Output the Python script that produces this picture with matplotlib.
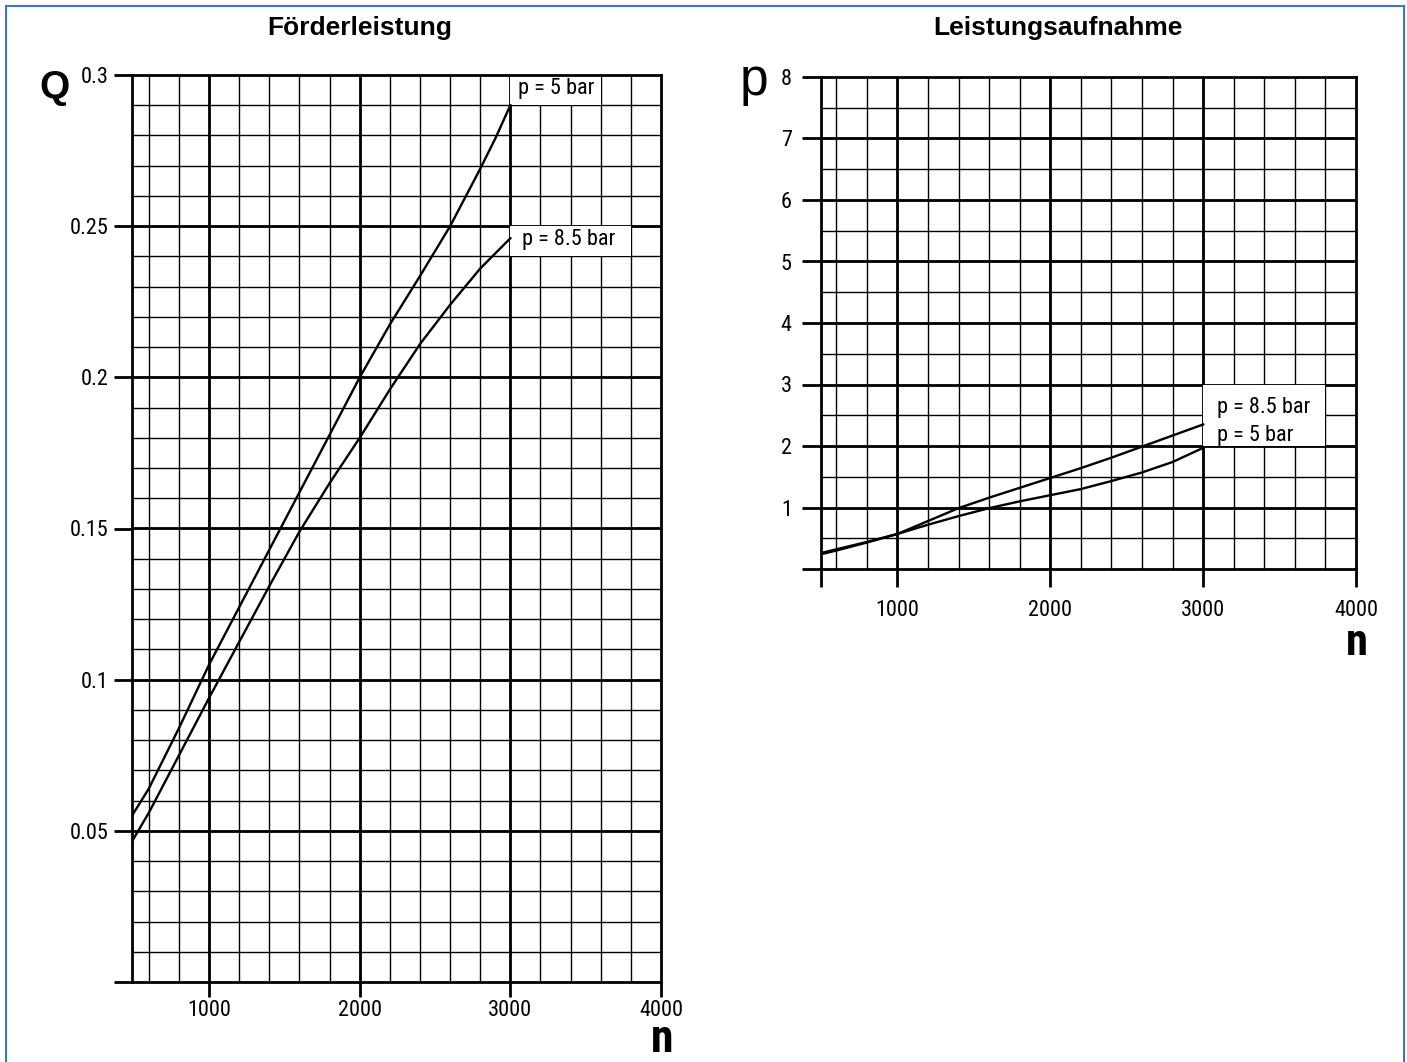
import numpy as np
import matplotlib
matplotlib.use("Agg")
import matplotlib.pyplot as plt
from matplotlib import font_manager as fm
from matplotlib.patches import Rectangle

# ---------------- data ----------------
# Förderleistung  (Q over n)
n_q = [488, 600, 800, 1000, 1200, 1400, 1600, 1800, 2000, 2200, 2400, 2600, 2800, 2900, 3000]
q_5bar = [0.055, 0.064, 0.084, 0.105, 0.124, 0.143, 0.162, 0.181, 0.200, 0.2175, 0.2335,
          0.250, 0.269, 0.279, 0.290]
q_85bar = [0.0465, 0.056, 0.075, 0.094, 0.1125, 0.131, 0.149, 0.165, 0.180, 0.196, 0.211,
           0.224, 0.236, 0.241, 0.246]

# Leistungsaufnahme (P over n)
n_p = [500, 600, 800, 1000, 1200, 1400, 1600, 1800, 2000, 2200, 2400, 2600, 2800, 3000]
p_85bar = [0.24, 0.30, 0.43, 0.57, 0.78, 0.99, 1.16, 1.32, 1.48, 1.64, 1.81, 1.99, 2.17, 2.35]
p_5bar = [0.26, 0.32, 0.44, 0.57, 0.72, 0.86, 0.99, 1.10, 1.20, 1.30, 1.43, 1.57, 1.74, 1.97]

q_ticks = [0, 0.05, 0.1, 0.15, 0.2, 0.25, 0.3]
q_ticklabels = ["", "0.05", "0.1", "0.15", "0.2", "0.25", "0.3"]
n_ticks = [1000, 2000, 3000, 4000]
n_ticklabels = ["1000", "2000", "3000", "4000"]
p_ticks = [0, 1, 2, 3, 4, 5, 6, 7, 8]
p_ticklabels = ["", "1", "2", "3", "4", "5", "6", "7", "8"]

label_5 = "p = 5 bar"
label_85 = "p = 8.5 bar"

# ---------------- fonts ----------------
entries = fm.fontManager.ttflist
names = {f.name for f in entries}
narrow_family, narrow_stretch = None, "normal"
for cand in ["Liberation Sans Narrow", "Roboto Condensed", "Open Sans Condensed",
             "Noto Sans Condensed", "DejaVu Sans Condensed"]:
    if cand in names:
        narrow_family = cand
        break
if narrow_family is None:
    cond = [f for f in entries if f.stretch in ("condensed", "semi-condensed", 87, 75)
            or (isinstance(f.stretch, str) and "condensed" in f.stretch)]
    if cond:
        narrow_family = cond[0].name
        narrow_stretch = "condensed"
    else:
        narrow_family = "Liberation Sans" if "Liberation Sans" in names else "DejaVu Sans"
sans = "Liberation Sans" if "Liberation Sans" in names else "DejaVu Sans"
TICK = dict(fontfamily=narrow_family, fontstretch=narrow_stretch, fontsize=16)
LAB = dict(fontfamily=narrow_family, fontstretch=narrow_stretch, fontsize=16)

W, H = 1407, 1062
fig = plt.figure(figsize=(W / 100, H / 100), dpi=100)
fig.patch.set_facecolor("white")

def fx(px):
    return px / W

def fy(py):
    return 1 - py / H

MAJ = 2.0
MIN = 1.0


def setup(ax, xlim, ylim, xminor, ymajor, yminor, xmajor):
    ax.set_xlim(*xlim)
    ax.set_ylim(*ylim)
    for v in xminor:
        ax.axvline(v, color="black", lw=MIN, zorder=1)
    for v in yminor:
        ax.axhline(v, color="black", lw=MIN, zorder=1)
    for v in xmajor:
        ax.axvline(v, color="black", lw=MAJ, zorder=1.1)
    for v in ymajor:
        ax.axhline(v, color="black", lw=MAJ, zorder=1.1)
    for s in ax.spines.values():
        s.set_linewidth(MAJ)
        s.set_zorder(5)


# ---------- left: Förderleistung ----------
axL = fig.add_axes([fx(132), fy(982), fx(661) - fx(132), fy(75) - fy(982)])
setup(axL, (488, 4000), (0, 0.3),
      np.arange(600, 4000, 200), np.arange(0.05, 0.3, 0.05), np.arange(0.01, 0.3, 0.01),
      [1000, 2000, 3000])
axL.set_xticks(n_ticks)
axL.set_xticklabels(n_ticklabels, **TICK)
axL.set_yticks(q_ticks)
axL.set_yticklabels(q_ticklabels, **TICK)
axL.tick_params(axis="x", direction="out", length=11, width=MAJ, pad=2)
axL.tick_params(axis="y", direction="out", length=13, width=MAJ, pad=4)

axL.add_patch(Rectangle((3000, 0.29), 600, 0.01, facecolor="white", edgecolor="none", zorder=2))
axL.add_patch(Rectangle((3000, 0.24), 800, 0.01, facecolor="white", edgecolor="none", zorder=2))
axL.plot(n_q, q_5bar, color="black", lw=1.7, zorder=3)
axL.plot(n_q, q_85bar, color="black", lw=1.7, zorder=3)
axL.text(3050, 0.2955, label_5, va="center", ha="left", zorder=4, **LAB)
axL.text(3080, 0.2455, label_85, va="center", ha="left", zorder=4, **LAB)

# ---------- right: Leistungsaufnahme ----------
axR = fig.add_axes([fx(821), fy(569), fx(1356) - fx(821), fy(77) - fy(569)])
setup(axR, (500, 4000), (0, 8),
      np.arange(600, 4000, 200), np.arange(1, 8, 1), np.arange(0.5, 8, 0.5),
      [1000, 2000, 3000])
axR.set_xticks([500] + n_ticks)
axR.set_xticklabels([""] + n_ticklabels, **TICK)
axR.set_yticks(p_ticks)
axR.set_yticklabels(p_ticklabels, **TICK)
axR.tick_params(axis="x", direction="out", length=13, width=MAJ, pad=9)
axR.tick_params(axis="y", direction="out", length=14, width=MAJ, pad=7)

axR.add_patch(Rectangle((3000, 2.0), 800, 1.0, facecolor="white", edgecolor="none", zorder=2))
axR.plot(n_p, p_85bar, color="black", lw=1.7, zorder=3)
axR.plot(n_p, p_5bar, color="black", lw=1.7, zorder=3)
axR.text(3090, 2.63, label_85, va="center", ha="left", zorder=4, **LAB)
axR.text(3090, 2.17, label_5, va="center", ha="left", zorder=4, **LAB)

# ---------- titles and axis letters ----------
fig.text(fx(360), fy(28), "Förderleistung", fontfamily=sans, fontweight="bold",
         fontsize=19, ha="center", va="center")
fig.text(fx(1058), fy(28), "Leistungsaufnahme", fontfamily=sans, fontweight="bold",
         fontsize=19, ha="center", va="center")
fig.text(fx(54), fy(98), "Q", fontfamily=sans, fontweight="bold", fontsize=28,
         ha="center", va="baseline")
fig.text(fx(754), fy(95), "p", fontfamily=sans, fontsize=37,
         ha="center", va="baseline")
fig.text(fx(662), fy(1052), "n", fontfamily=narrow_family, fontstretch=narrow_stretch,
         fontweight="bold", fontsize=33, ha="center", va="baseline")
fig.text(fx(1357), fy(655), "n", fontfamily=narrow_family, fontstretch=narrow_stretch,
         fontweight="bold", fontsize=32, ha="center", va="baseline")

# blue frame
fig.patches.append(Rectangle((fx(6), -0.02), fx(1404) - fx(6), fy(6) + 0.02,
                             transform=fig.transFigure, facecolor="none",
                             edgecolor="#3b78c2", lw=1.5, zorder=0))

fig.savefig("out.png", dpi=100)
